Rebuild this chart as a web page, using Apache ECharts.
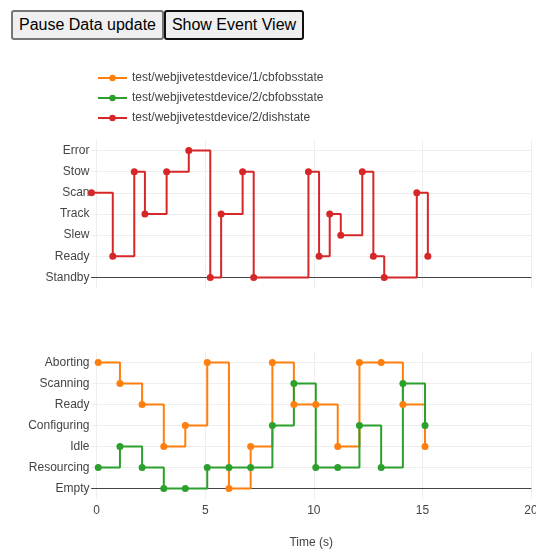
<!DOCTYPE html>
<html>
<head>
<meta charset="utf-8">
<script src="https://cdn.jsdelivr.net/npm/echarts@6/dist/echarts.min.js"></script>
<style>
    html, body { margin: 0; padding: 0; background: #fff; }
    #chart { position: absolute; left: 0; top: 0; width: 536px; height: 554px; }
    .btn {
        position: absolute;
        top: 10px;
        height: 30px;
        box-sizing: border-box;
        font: 16px "Liberation Sans", Arial, sans-serif;
        color: #000;
        background: #efefef;
        border: 2px solid #767676;
        border-radius: 3px;
        padding: 0 2px;
        white-space: nowrap;
        z-index: 2;
    }
    #pause { left: 11px; width: 153px; }
    #events { left: 164px; width: 140px; border-color: #101010; }
</style>
</head>
<body>
<div id="chart"></div>
<button class="btn" id="pause">Pause Data update</button>
<button class="btn" id="events">Show Event View</button>
<script>
const dishStates = ['Standby', 'Ready', 'Slew', 'Track', 'Scan', 'Stow', 'Error'];
const obsStates = ['Empty', 'Resourcing', 'Idle', 'Configuring', 'Ready', 'Scanning', 'Aborting'];

// test/webjivetestdevice/2/dishstate
const dishTime = [-0.24, 0.74, 1.73, 2.22, 3.22, 4.24, 5.23, 5.73, 6.72, 7.23, 9.75, 10.24, 10.73, 11.24, 12.23, 12.74, 13.24, 14.74, 15.25];
const dishValue = ['Scan', 'Ready', 'Stow', 'Track', 'Stow', 'Error', 'Standby', 'Track', 'Stow', 'Standby', 'Stow', 'Ready', 'Track', 'Slew', 'Stow', 'Ready', 'Standby', 'Scan', 'Ready'];

// test/webjivetestdevice/1/cbfobsstate
const obs1Time = [0.07, 1.07, 2.09, 3.09, 4.08, 5.09, 6.09, 7.09, 8.09, 9.08, 10.09, 11.1, 12.1, 13.1, 14.1, 15.12];
const obs1Value = ['Aborting', 'Scanning', 'Ready', 'Idle', 'Configuring', 'Aborting', 'Empty', 'Idle', 'Aborting', 'Ready', 'Ready', 'Idle', 'Aborting', 'Aborting', 'Ready', 'Idle'];

// test/webjivetestdevice/2/cbfobsstate
const obs2Time = [0.07, 1.07, 2.09, 3.09, 4.08, 5.09, 6.09, 7.09, 8.09, 9.08, 10.09, 11.1, 12.1, 13.1, 14.1, 15.12];
const obs2Value = ['Resourcing', 'Idle', 'Resourcing', 'Empty', 'Empty', 'Resourcing', 'Resourcing', 'Resourcing', 'Configuring', 'Scanning', 'Resourcing', 'Resourcing', 'Configuring', 'Resourcing', 'Scanning', 'Configuring'];

const xTicks = [0, 5, 10, 15, 20];

const FONT = '"Liberation Sans", Arial, sans-serif';
const textColor = '#444';
const gridColor = '#eeeeee';

const toPoints = (times, values, states) => times.map((t, i) => [t, states.indexOf(values[i])]);

const makeXAxis = (gridIndex, showLabels) => ({
    type: 'value',
    gridIndex,
    min: -0.24,
    max: 20,
    splitNumber: 4,
    axisLine: { show: true, onZero: true, lineStyle: { color: textColor, width: 1 } },
    axisTick: { show: false },
    axisLabel: {
        show: showLabels,
        showMinLabel: false,
        margin: 6,
        color: textColor,
        fontSize: 12,
        fontFamily: FONT,
        formatter: v => (xTicks.indexOf(v) >= 0 ? String(v) : '')
    },
    splitLine: { show: true, showMinLine: false, lineStyle: { color: gridColor, width: 1 } },
    name: showLabels ? 'Time (s)' : '',
    nameLocation: 'middle',
    nameGap: 38,
    nameTextStyle: { color: textColor, fontSize: 12, fontFamily: FONT }
});

const makeYAxis = (gridIndex, states) => ({
    type: 'value',
    gridIndex,
    min: -0.5,
    max: 6.5,
    splitNumber: 7,
    axisLine: { show: false },
    axisTick: { show: false },
    axisLabel: {
        showMinLabel: false,
        showMaxLabel: false,
        margin: 2,
        color: textColor,
        fontSize: 12,
        fontFamily: FONT,
        formatter: v => (Number.isInteger(v) && states[v] !== undefined ? states[v] : '')
    },
    splitLine: { show: true, showMinLine: false, showMaxLine: false, lineStyle: { color: gridColor, width: 1 } }
});

const makeSeries = (name, color, axisIndex, data) => ({
    name,
    type: 'line',
    step: 'end',
    xAxisIndex: axisIndex,
    yAxisIndex: axisIndex,
    data,
    symbol: 'circle',
    symbolSize: 7,
    showAllSymbol: true,
    color,
    lineStyle: { color, width: 2 },
    itemStyle: { color },
    emphasis: { disabled: true }
});

const chart = echarts.init(document.getElementById('chart'), null, { renderer: 'canvas' });

chart.setOption({
    animation: false,
    backgroundColor: '#fff',
    legend: {
        orient: 'vertical',
        left: 92,
        top: 66,
        itemWidth: 29,
        itemHeight: 8,
        itemGap: 6,
        textStyle: { color: textColor, fontSize: 12, fontFamily: FONT, lineHeight: 14 },
        data: [
            'test/webjivetestdevice/1/cbfobsstate',
            'test/webjivetestdevice/2/cbfobsstate',
            'test/webjivetestdevice/2/dishstate'
        ]
    },
    grid: [
        { left: 91.5, right: 5, top: 140, height: 148, outerBoundsMode: 'none', containLabel: false },
        { left: 91.5, right: 5, top: 352, height: 147, outerBoundsMode: 'none', containLabel: false }
    ],
    xAxis: [makeXAxis(0, false), makeXAxis(1, true)],
    yAxis: [makeYAxis(0, dishStates), makeYAxis(1, obsStates)],
    series: [
        makeSeries('test/webjivetestdevice/1/cbfobsstate', '#ff7f0e', 1, toPoints(obs1Time, obs1Value, obsStates)),
        makeSeries('test/webjivetestdevice/2/cbfobsstate', '#2ca02c', 1, toPoints(obs2Time, obs2Value, obsStates)),
        makeSeries('test/webjivetestdevice/2/dishstate', '#d62728', 0, toPoints(dishTime, dishValue, dishStates))
    ]
});
</script>
</body>
</html>
